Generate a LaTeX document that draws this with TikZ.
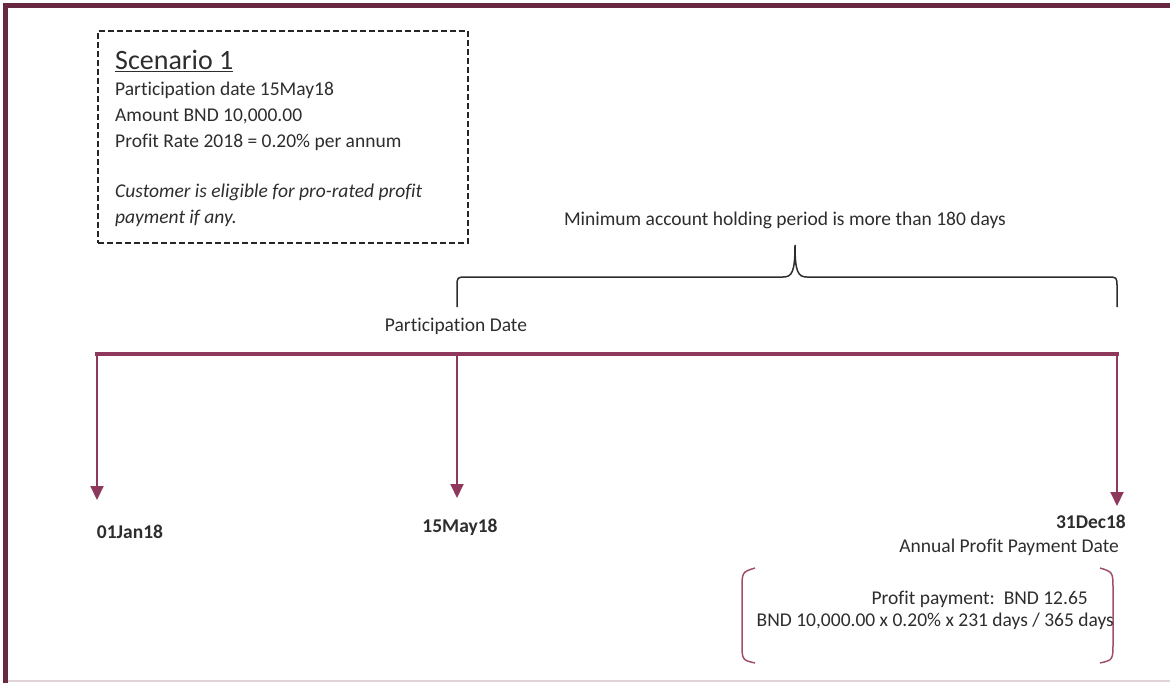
\documentclass[tikz,border=0pt]{standalone}
\usepackage{fontspec}
\setmainfont{Carlito}[Ligatures={NoCommon}]
\usetikzlibrary{arrows.meta}
\definecolor{framered}{RGB}{104,40,66}
\definecolor{linered}{RGB}{142,56,94}
\definecolor{parenred}{RGB}{160,78,112}
\definecolor{textgray}{RGB}{45,45,45}
\tikzset{
  tick/.style={linered, line width=2pt, -{Triangle[width=13pt,length=14pt]}},
  datelabel/.style={font=\bfseries\fontsize{19.5}{20}\selectfont, text=textgray, inner sep=0pt},
  plain/.style={font=\fontsize{19.5}{22}\selectfont, text=textgray, inner sep=0pt},
}

\begin{document}
\begin{tikzpicture}[x=1pt, y=-1pt]
    \useasboundingbox (0,0) rectangle (1170,683);
    % frame
    \fill[framered] (3,3) rectangle (1170,8);
    \fill[framered] (3,3) rectangle (8,683);
    \draw[framered!20, line width=1.5pt] (8,681) -- (1170,681);

    % scenario box
    \node[draw=black!85, dash pattern=on 6pt off 3pt, line width=1.5pt, minimum width=370pt, minimum height=212pt, anchor=north west] (scen) at (97,30) {};
    \node[plain, anchor=north west, align=left, font=\fontsize{19.5}{26}\selectfont] (scentext) at (115,50)
      {{\fontsize{28}{26}\selectfont\underline{Scenario 1}}\\
       Participation date 15May18\\
       Amount BND 10,000.00\\
       Profit Rate 2018 = 0.20\% per annum\\[24pt]
       \textit{Customer is eligible for pro-rated profit}\\
       \textit{payment if any.}};

    % holding period brace
    \coordinate (brL) at (457,307);
    \coordinate (brR) at (1117,307);
    \coordinate (brTip) at (795,245);
    \draw[textgray, line width=1.5pt] (brL) -- (457,287) .. controls (457,277) .. (467,277) -- (783,277)
      .. controls (792,277) and (795,272) .. (brTip) .. controls (795,272) and (798,277) .. (807,277)
      -- (1107,277) .. controls (1117,277) .. (1117,287) -- (brR);
    \node[plain] (period) at (785,220) {Minimum account holding period is more than 180 days};
    \node[plain] (partlbl) at (456,326) {Participation Date};

    % timeline
    \coordinate (t0) at (97,354);
    \coordinate (t1) at (457,354);
    \coordinate (t2) at (1117,354);
    \coordinate (a0) at (97,500);
    \coordinate (a1) at (457,498);
    \coordinate (a2) at (1117,506);
    \draw[linered, line width=4pt] (95,354) -- (1119,354);
    \draw[tick] (t0) -- (a0);
    \draw[tick] (t1) -- (a1);
    \draw[tick] (t2) -- (a2);
    \node[datelabel] (d0) at (130,532) {01Jan18};
    \node[datelabel] (d1) at (460,527) {15May18};
    \node[datelabel, anchor=east] (d2) at (1126,522) {31Dec18};
    \node[plain, anchor=east] (paylbl) at (1119,547) {Annual Profit Payment Date};

    % profit calculation
    \draw[parenred, line width=1.5pt] (755,568) .. controls (742,572) .. (742,590) -- (742,642) .. controls (742,660) .. (755,663);
    \draw[parenred, line width=1.5pt] (1100,568) .. controls (1113,572) .. (1113,590) -- (1113,642) .. controls (1113,660) .. (1100,663);
    \node[plain, anchor=east] (pay) at (1088,599) {Profit payment:\ \ BND 12.65};
    \node[plain, anchor=east] (calc) at (1114,621) {BND 10,000.00 x 0.20\% x 231 days / 365 days};
\end{tikzpicture}
\end{document}
